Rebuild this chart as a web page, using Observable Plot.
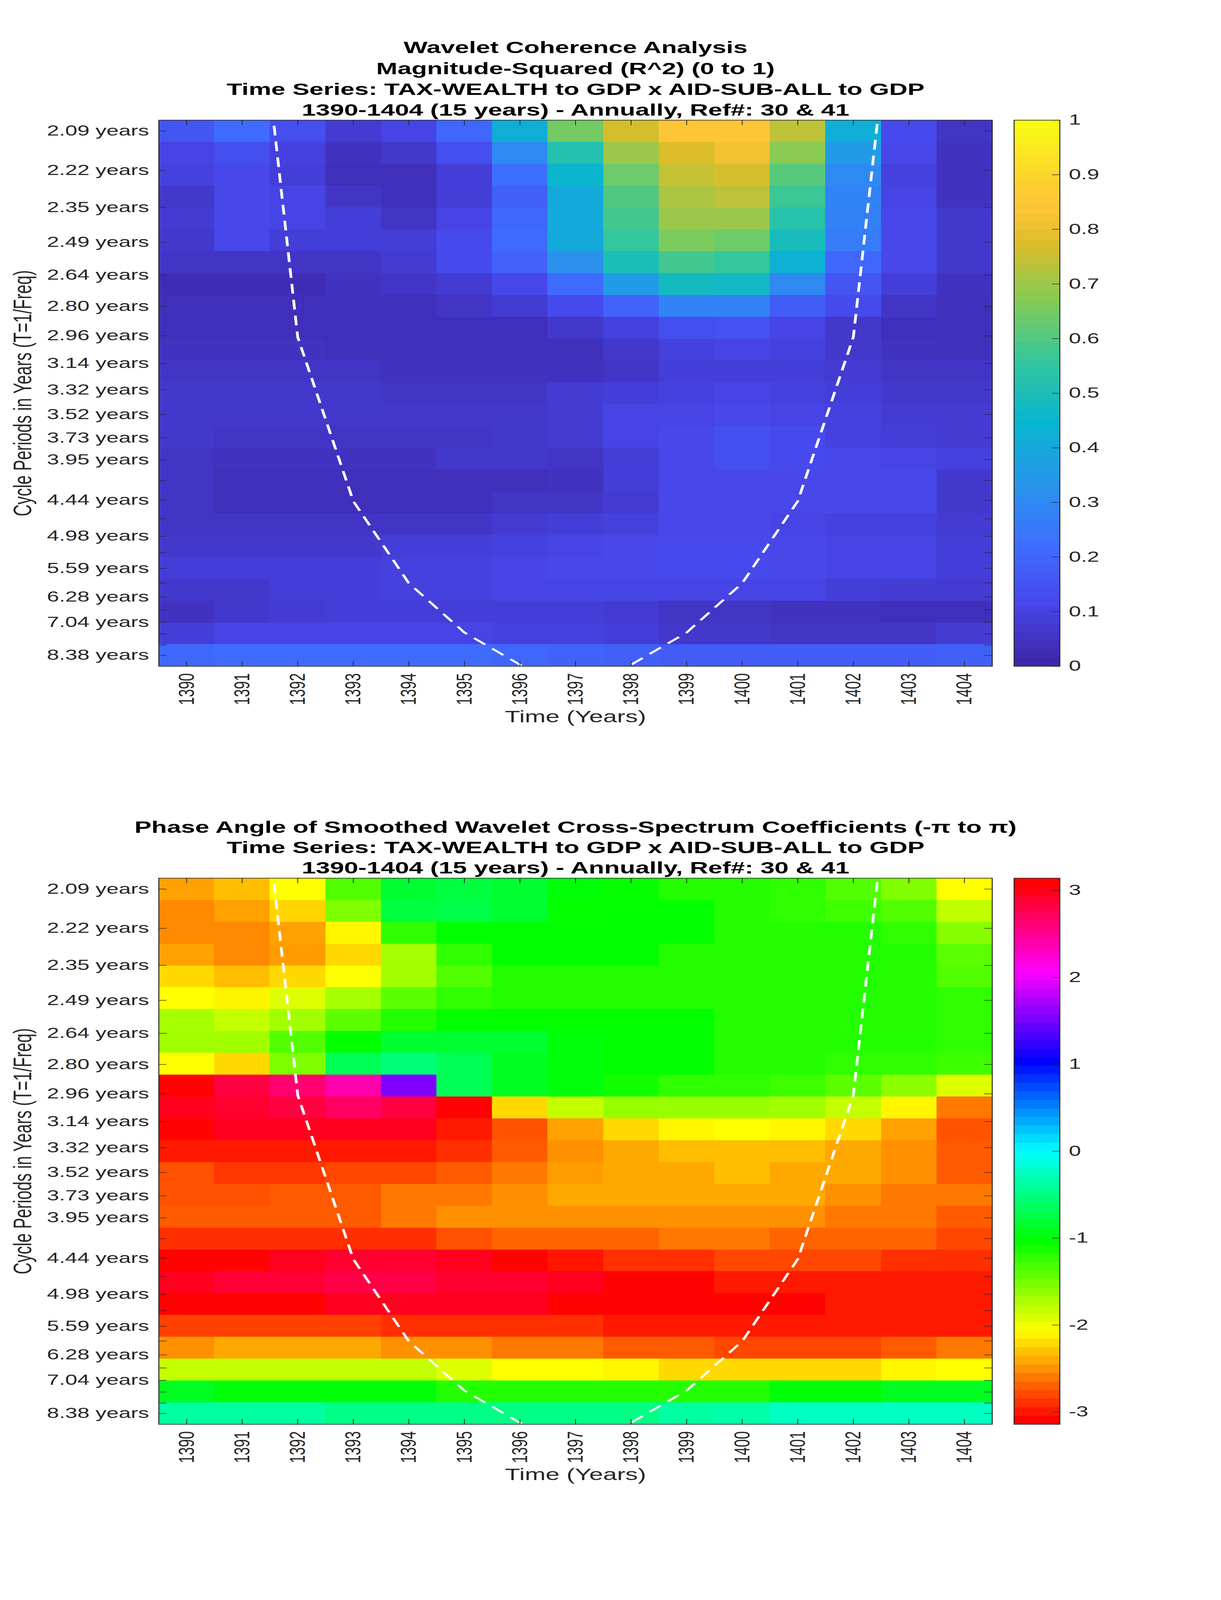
<!DOCTYPE html>
<html>
<head>
<meta charset="utf-8">
<script src="https://cdn.jsdelivr.net/npm/d3@7"></script>
<script src="https://cdn.jsdelivr.net/npm/@observablehq/plot@0.6"></script>
<style>
  html, body { margin: 0; padding: 0; background: #fff; overflow: hidden; }
  #wrap { position: relative; width: 3125px; height: 6252px; background: #fff; transform-origin: 0 0; }
  #wrap svg { position: absolute; }
</style>
</head>
<body>
<div id="wrap"></div>
<script>
// ---------------- DATA ----------------
const years = [1390, 1391, 1392, 1393, 1394, 1395, 1396, 1397, 1398, 1399, 1400, 1401, 1402, 1403, 1404];

// wavelet scale periods (years), one per image row, top to bottom
const periods = [2.0944, 2.2189, 2.3509, 2.4907, 2.6388, 2.7957, 2.9619, 3.1381, 3.3247, 3.5224,
  3.7318, 3.9537, 4.1888, 4.4379, 4.7018, 4.9814, 5.2776, 5.5914, 5.9239, 6.2761,
  6.6493, 7.0447, 7.4636, 7.9074, 8.3776];

// y tick labels (blank = unlabeled tick)
const yTickLabels = ["2.09 years", "2.22 years", "2.35 years", "2.49 years", "2.64 years", "2.80 years",
  "2.96 years", "3.14 years", "3.32 years", "3.52 years", "3.73 years", "3.95 years", "",
  "4.44 years", "", "4.98 years", "", "5.59 years", "", "6.28 years", "", "7.04 years", "", "", "8.38 years"];

// magnitude-squared coherence, rows = periods, columns = years
const coherence = [
  [0.15,0.21,0.13,0.07,0.10,0.20,0.42,0.65,0.77,0.85,0.85,0.74,0.42,0.12,0.05],
  [0.10,0.13,0.09,0.04,0.06,0.13,0.30,0.52,0.70,0.78,0.82,0.68,0.35,0.11,0.04],
  [0.09,0.11,0.08,0.03,0.03,0.08,0.22,0.45,0.64,0.75,0.77,0.61,0.30,0.09,0.04],
  [0.06,0.11,0.10,0.05,0.03,0.08,0.18,0.40,0.60,0.72,0.74,0.57,0.28,0.10,0.04],
  [0.07,0.11,0.10,0.08,0.05,0.10,0.20,0.40,0.58,0.70,0.70,0.53,0.27,0.11,0.06],
  [0.06,0.11,0.08,0.08,0.08,0.12,0.21,0.40,0.56,0.66,0.64,0.49,0.26,0.11,0.06],
  [0.05,0.05,0.05,0.05,0.07,0.12,0.19,0.32,0.50,0.58,0.56,0.43,0.20,0.11,0.06],
  [0.02,0.02,0.02,0.04,0.05,0.07,0.11,0.21,0.35,0.48,0.47,0.30,0.15,0.08,0.04],
  [0.03,0.03,0.03,0.03,0.03,0.05,0.07,0.12,0.19,0.28,0.28,0.17,0.12,0.05,0.03],
  [0.03,0.03,0.03,0.03,0.03,0.03,0.03,0.06,0.09,0.13,0.14,0.10,0.06,0.03,0.03],
  [0.04,0.04,0.04,0.03,0.03,0.03,0.03,0.03,0.06,0.09,0.10,0.09,0.06,0.04,0.03],
  [0.05,0.05,0.05,0.05,0.04,0.04,0.04,0.04,0.05,0.08,0.08,0.08,0.07,0.05,0.05],
  [0.06,0.06,0.06,0.06,0.05,0.05,0.05,0.07,0.08,0.09,0.10,0.09,0.08,0.06,0.06],
  [0.06,0.06,0.06,0.06,0.06,0.06,0.06,0.07,0.10,0.10,0.11,0.10,0.09,0.07,0.07],
  [0.06,0.05,0.05,0.05,0.05,0.05,0.06,0.07,0.10,0.11,0.13,0.12,0.09,0.08,0.07],
  [0.05,0.04,0.04,0.04,0.04,0.06,0.06,0.05,0.08,0.11,0.13,0.12,0.11,0.10,0.09],
  [0.05,0.03,0.03,0.03,0.03,0.03,0.03,0.04,0.08,0.11,0.11,0.11,0.11,0.11,0.06],
  [0.05,0.03,0.03,0.03,0.03,0.03,0.05,0.05,0.07,0.11,0.11,0.11,0.11,0.11,0.06],
  [0.05,0.05,0.05,0.05,0.05,0.05,0.07,0.08,0.09,0.11,0.11,0.10,0.09,0.09,0.07],
  [0.06,0.06,0.06,0.06,0.08,0.08,0.09,0.10,0.11,0.12,0.12,0.11,0.10,0.10,0.08],
  [0.08,0.08,0.08,0.08,0.09,0.09,0.10,0.11,0.11,0.12,0.12,0.11,0.10,0.10,0.08],
  [0.06,0.06,0.08,0.08,0.09,0.09,0.10,0.10,0.10,0.10,0.10,0.10,0.08,0.07,0.07],
  [0.04,0.06,0.07,0.08,0.08,0.08,0.08,0.08,0.07,0.05,0.05,0.04,0.04,0.03,0.03],
  [0.08,0.10,0.10,0.10,0.10,0.10,0.09,0.09,0.08,0.06,0.06,0.05,0.05,0.05,0.07],
  [0.20,0.21,0.21,0.21,0.21,0.21,0.20,0.19,0.18,0.17,0.17,0.17,0.17,0.17,0.18]
];

// phase angle (radians), rows = periods, columns = years
const phase = [
  [-2.48,-2.36,-2.09,-1.38,-0.85,-0.79,-0.85,-1.02,-1.07,-1.19,-1.19,-1.24,-1.38,-1.57,-2.09],
  [-2.58,-2.48,-2.27,-1.57,-0.79,-0.75,-0.85,-1.07,-1.05,-1.05,-1.19,-1.24,-1.30,-1.38,-1.83],
  [-2.58,-2.58,-2.48,-2.13,-1.24,-1.05,-1.05,-1.05,-1.05,-1.05,-1.19,-1.19,-1.19,-1.24,-1.60],
  [-2.48,-2.58,-2.50,-2.25,-1.73,-1.24,-1.05,-1.05,-1.05,-1.19,-1.19,-1.19,-1.19,-1.19,-1.42],
  [-2.25,-2.36,-2.25,-2.09,-1.71,-1.38,-1.19,-1.19,-1.19,-1.19,-1.19,-1.19,-1.19,-1.19,-1.38],
  [-2.09,-2.14,-1.96,-1.73,-1.42,-1.24,-1.19,-1.19,-1.19,-1.19,-1.19,-1.19,-1.19,-1.19,-1.24],
  [-1.73,-1.85,-1.71,-1.42,-1.19,-1.05,-1.05,-1.05,-1.05,-1.05,-1.19,-1.19,-1.19,-1.19,-1.24],
  [-1.71,-1.71,-1.38,-1.05,-0.85,-0.85,-0.85,-1.00,-1.05,-1.05,-1.19,-1.19,-1.19,-1.19,-1.24],
  [-2.09,-2.25,-1.57,-0.70,-0.55,-0.70,-0.91,-1.00,-1.05,-1.05,-1.19,-1.19,-1.24,-1.24,-1.30],
  [-3.13, 2.88, 2.68, 2.43, 1.57,-0.70,-0.91,-1.00,-1.12,-1.24,-1.24,-1.30,-1.42,-1.62,-1.96],
  [ 3.02, 2.95, 2.88, 2.74, 2.88, 3.13,-2.25,-1.85,-1.67,-1.67,-1.67,-1.71,-1.85,-2.13,-2.65],
  [-3.13, 3.02, 3.02, 3.02, 3.02,-3.04,-2.80,-2.48,-2.25,-2.13,-2.09,-2.13,-2.25,-2.48,-2.80],
  [-3.04,-3.04,-3.04,-3.04,-3.04,-2.95,-2.77,-2.55,-2.45,-2.36,-2.36,-2.36,-2.45,-2.55,-2.77],
  [-2.81,-2.92,-2.92,-2.85,-2.85,-2.77,-2.65,-2.50,-2.45,-2.45,-2.36,-2.45,-2.45,-2.55,-2.77],
  [-2.81,-2.81,-2.77,-2.77,-2.65,-2.65,-2.55,-2.45,-2.45,-2.45,-2.45,-2.45,-2.55,-2.65,-2.65],
  [-2.77,-2.77,-2.77,-2.77,-2.65,-2.55,-2.55,-2.55,-2.55,-2.55,-2.55,-2.55,-2.65,-2.65,-2.77],
  [-2.95,-2.95,-2.95,-2.95,-2.95,-2.81,-2.73,-2.73,-2.73,-2.65,-2.65,-2.73,-2.73,-2.73,-2.85],
  [-3.13,-3.13, 3.02, 2.95, 2.95, 3.02,-3.13,-3.06,-2.95,-2.95,-2.85,-2.85,-2.85,-2.95,-2.95],
  [ 3.02, 2.92, 2.92, 2.85, 2.85, 2.95, 2.95, 3.02,-3.13,-3.13,-3.04,-3.04,-3.04,-3.04,-3.04],
  [-3.13,-3.13,-3.13, 3.02, 3.02, 3.02, 3.02,-3.13,-3.13,-3.13,-3.13,-3.13,-3.04,-3.04,-3.04],
  [-2.88,-2.88,-2.88,-2.88,-2.95,-2.95,-2.95,-2.95,-3.04,-3.04,-3.04,-3.04,-3.04,-3.04,-3.04],
  [-2.55,-2.45,-2.45,-2.45,-2.55,-2.55,-2.65,-2.65,-2.77,-2.77,-2.85,-2.85,-2.85,-2.77,-2.65],
  [-1.85,-1.85,-1.85,-1.85,-1.85,-1.96,-2.09,-2.09,-2.13,-2.25,-2.25,-2.25,-2.25,-2.13,-2.09],
  [-0.91,-1.02,-1.02,-1.02,-1.02,-1.19,-1.19,-1.19,-1.19,-1.19,-1.19,-1.02,-1.02,-0.91,-0.91],
  [-0.39,-0.39,-0.39,-0.50,-0.50,-0.50,-0.50,-0.50,-0.50,-0.39,-0.36,-0.26,-0.26,-0.26,-0.26]
];

// cone of influence (period in years at each year)
const coiYears   = [1391, 1392, 1393, 1394, 1395, 1396, 1397, 1398, 1399, 1400, 1401, 1402, 1403];
const coiPeriods = [1.48, 2.97, 4.45, 5.93, 7.41, 8.85, 10.3, 8.85, 7.41, 5.93, 4.45, 2.97, 1.48];

const titleCoherence = [
  "Wavelet Coherence Analysis",
  "Magnitude-Squared (R^2) (0 to 1)",
  "Time Series: TAX-WEALTH to GDP x AID-SUB-ALL to GDP",
  "1390-1404 (15 years) - Annually, Ref#: 30 & 41"
];
const titlePhase = [
  "Phase Angle of Smoothed Wavelet Cross-Spectrum Coefficients (-π to π)",
  "Time Series: TAX-WEALTH to GDP x AID-SUB-ALL to GDP",
  "1390-1404 (15 years) - Annually, Ref#: 30 & 41"
];
const xLabel = "Time (Years)";
const yLabel = "Cycle Periods in Years (T=1/Freq)";
const coherenceTicks = [0, 0.1, 0.2, 0.3, 0.4, 0.5, 0.6, 0.7, 0.8, 0.9, 1];
const coherenceTickLabels = ["0", "0.1", "0.2", "0.3", "0.4", "0.5", "0.6", "0.7", "0.8", "0.9", "1"];
const phaseTicks = [-3, -2, -1, 0, 1, 2, 3];
const phaseTickLabels = ["-3", "-2", "-1", "0", "1", "2", "3"];

// ---------------- STYLE / LAYOUT ----------------
const W = 3125, H = 6252;
const FONT = '"Liberation Sans", Arial, Helvetica, sans-serif';
const INK = "#262626";
const axLeft = 406, axRight = 2539;
const cbLeft = 2595, cbRight = 2712;
const tickFont = 56, labelFont = 64, titleFont = 65;

const parulaT = [0, 0.111, 0.222, 0.333, 0.444, 0.556, 0.667, 0.778, 0.841, 0.889, 1];
const parulaC = ["#3e26a8", "#4747eb", "#3e6fff", "#2796eb", "#08b5d0", "#31c69f", "#80cc59", "#dcbd29", "#fec438", "#fccf30", "#f9fb15"];
const parulaScale = d3.scaleLinear().domain(parulaT).range(parulaC).interpolate(d3.interpolateRgb).clamp(true);
const parula = (t) => parulaScale(t);
const hsv = (t) => d3.hsl(t * 360, 1, 0.5).formatHex();

const coherenceColor = {type: "linear", domain: [0, 1], interpolate: parula};
const phaseColor = {type: "linear", domain: [-Math.PI, Math.PI], interpolate: hsv};

const f0 = 1 / periods[0], fN = 1 / periods[periods.length - 1];
const dF = (f0 - fN) / (periods.length - 1);
const fTop = f0 + dF / 2, fBot = fN - dF / 2;
const freqs = periods.map(p => 1 / p);
const labeled = freqs.map((f, i) => ({f, label: yTickLabels[i]})).filter(d => d.label !== "");
const labelMap = new Map(labeled.map(d => [d.f, d.label]));

const xLo = years[0] - 0.5, xHi = years[years.length - 1] + 0.5;

function heatmap(p, values, colorOpts, titleLines, titleDy) {
  const axH = p.axBottom - p.axTop, axW = axRight - axLeft;
  const tickLenF = 20 * (fTop - fBot) / axH;
  const tickLenX = 20 * (xHi - xLo) / axW;
  const cells = [];
  values.forEach((row, r) => row.forEach((v, c) => cells.push({
    x1: years[c] - 0.5, x2: years[c] + 0.5, y1: fTop - r * dF, y2: fTop - (r + 1) * dF, v
  })));
  const coi = coiYears.map((y, i) => ({year: y, f: 1 / coiPeriods[i]}));
  return Plot.plot({
    width: W,
    height: p.svgHeight,
    marginLeft: axLeft,
    marginRight: W - axRight,
    marginTop: p.axTop - p.svgTop,
    marginBottom: p.svgTop + p.svgHeight - p.axBottom,
    x: {domain: [xLo, xHi]},
    y: {domain: [fBot, fTop]},
    color: colorOpts,
    style: {fontFamily: FONT, fontSize: tickFont + "px", color: INK, background: "transparent", overflow: "visible"},
    marks: [
      Plot.rect(cells, {x1: "x1", x2: "x2", y1: "y1", y2: "y2", fill: "v", shapeRendering: "crispEdges"}),
      Plot.line(coi, {x: "year", y: "f", stroke: "white", strokeWidth: 7, strokeDasharray: "38,24", strokeLinecap: "butt", clip: true}),
      Plot.ruleX(years, {x: d => d, y1: fBot, y2: fBot + tickLenF, stroke: INK, strokeWidth: 2}),
      Plot.ruleX(years, {x: d => d, y1: fTop - tickLenF, y2: fTop, stroke: INK, strokeWidth: 2}),
      Plot.ruleY(freqs, {y: d => d, x1: xLo, x2: xLo + tickLenX, stroke: INK, strokeWidth: 2}),
      Plot.ruleY(freqs, {y: d => d, x1: xHi - tickLenX, x2: xHi, stroke: INK, strokeWidth: 2}),
      Plot.frame({stroke: INK, strokeWidth: 2.5}),
      Plot.axisX(years, {anchor: "bottom", tickSize: 0, tickPadding: 27, tickRotate: -90, fontSize: tickFont, color: INK, label: null, tickFormat: d => String(d)}),
      Plot.axisY(labeled.map(d => d.f), {anchor: "left", tickSize: 0, tickPadding: 25, fontSize: tickFont, color: INK, label: null, tickFormat: f => labelMap.get(f)}),
      Plot.text([xLabel], {text: d => d, frameAnchor: "bottom", dy: 198, fontSize: labelFont, fill: INK, lineAnchor: "middle"}),
      Plot.text([yLabel], {text: d => d, frameAnchor: "left", dx: -347, rotate: -90, fontSize: labelFont, fill: INK, lineAnchor: "middle", textAnchor: "middle"}),
      ...titleLines.map((t, i) => Plot.text([t], {text: d => d, frameAnchor: "top", dy: titleDy[i], fontSize: titleFont, fontWeight: "bold", fill: "#000", lineAnchor: "middle"}))
    ]
  });
}

function colorbar(p, colorOpts, lo, hi, ticks, tickLabels) {
  const n = 64;
  const cbW = cbRight - cbLeft;
  const bands = d3.range(n).map(k => ({y1: lo + k * (hi - lo) / n, y2: lo + (k + 1) * (hi - lo) / n, v: lo + k * (hi - lo) / (n - 1)}));
  const fmt = new Map(ticks.map((t, i) => [t, tickLabels[i]]));
  return Plot.plot({
    width: W - cbLeft,
    height: p.svgHeight,
    marginLeft: 0,
    marginRight: W - cbRight,
    marginTop: p.axTop - p.svgTop,
    marginBottom: p.svgTop + p.svgHeight - p.axBottom,
    x: {domain: [0, 1], axis: null},
    y: {domain: [lo, hi]},
    color: colorOpts,
    style: {fontFamily: FONT, fontSize: tickFont + "px", color: INK, background: "transparent", overflow: "visible"},
    marks: [
      Plot.rect(bands, {x1: 0, x2: 1, y1: "y1", y2: "y2", fill: "v", shapeRendering: "crispEdges"}),
      Plot.ruleY(ticks, {y: d => d, x1: 1 - 20 / cbW, x2: 1, stroke: INK, strokeWidth: 2}),
      Plot.frame({stroke: INK, strokeWidth: 2.5}),
      Plot.axisY(ticks, {anchor: "right", tickSize: 0, tickPadding: 23, fontSize: tickFont, color: INK, label: null, tickFormat: t => fmt.get(t)})
    ]
  });
}

const wrap = document.getElementById("wrap");
const panelA = {svgTop: 0, svgHeight: 3000, axTop: 469, axBottom: 2603};
const panelB = {svgTop: 3000, svgHeight: 3252, axTop: 3431, axBottom: 5565};

function place(svg, left, top) {
  svg.style.left = left + "px";
  svg.style.top = top + "px";
  wrap.appendChild(svg);
}

place(heatmap(panelA, coherence, coherenceColor, titleCoherence, [-283, -200, -119, -39]), 0, panelA.svgTop);
place(colorbar(panelA, coherenceColor, 0, 1, coherenceTicks, coherenceTickLabels), cbLeft, panelA.svgTop);
place(heatmap(panelB, phase, phaseColor, titlePhase, [-198, -118, -40]), 0, panelB.svgTop);
place(colorbar(panelB, phaseColor, -Math.PI, Math.PI, phaseTicks, phaseTickLabels), cbLeft, panelB.svgTop);

// The browser viewport may be shorter than the 6252px figure; fit the figure into it.
const fitY = Math.min(1, window.innerHeight / H);
const fitX = Math.min(1, window.innerWidth / W);
if (fitY < 1 || fitX < 1) wrap.style.transform = `scale(${fitX}, ${fitY})`;
</script>
</body>
</html>
